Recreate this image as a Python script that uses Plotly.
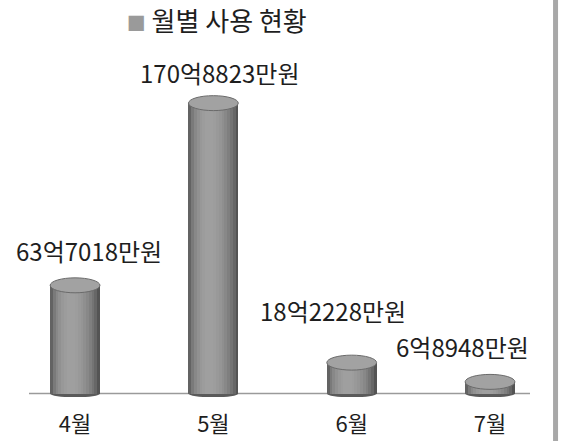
import math
import plotly.graph_objects as go

# ---- data ----
months = ["4월", "5월", "6월", "7월"]
values = [63.7018, 170.8823, 18.2228, 6.8948]          # 억원
value_labels = ["63억7018만원", "170억8823만원", "18억2228만원", "6억8948만원"]
title_text = "월별 사용 현황"

# ---- style ----
FONT = "Noto Sans CJK KR"
TEXT = "#1e1e1e"
BAR_W = 0.36
N_STRIPS = 18
CAP_H = 4.4            # half-height of the top ellipse, in data units
label_dx = [14, 6, -19, -28]
label_dy = [35, 31, 52, 35]

x = list(range(len(months)))
fig = go.Figure()


def shade(t):
    s = math.sin(math.pi * (t ** 0.8))
    g = int(62 + 98 * (max(s, 0) ** 0.55))
    return f"rgb({g},{g},{g})"


for k in range(N_STRIPS):
    t = (k + 0.5) / N_STRIPS
    fig.add_trace(go.Bar(
        x=x, y=values, base=0,
        width=BAR_W / N_STRIPS * 1.05,
        offset=-BAR_W / 2 + k * BAR_W / N_STRIPS,
        marker=dict(color=shade(t), line=dict(width=0)),
        hoverinfo="skip", showlegend=False,
    ))

shapes = []
# baseline
shapes.append(dict(type="line", xref="paper", yref="y", x0=0, x1=1, y0=0, y1=0,
                   line=dict(color="#9a9a9a", width=1.5), layer="below"))
for i, v in zip(x, values):
    # bottom of cylinder
    shapes.append(dict(type="circle", xref="x", yref="y",
                       x0=i - BAR_W / 2, x1=i + BAR_W / 2, y0=-CAP_H * 0.5, y1=CAP_H * 0.5,
                       fillcolor="#5a5a5a", line=dict(width=0), layer="below"))
    # top cap
    shapes.append(dict(type="circle", xref="x", yref="y",
                       x0=i - BAR_W / 2, x1=i + BAR_W / 2, y0=v - CAP_H, y1=v + CAP_H,
                       fillcolor="#a2a2a2", line=dict(color="#6a6a6a", width=1), layer="above"))
# right gray border
shapes.append(dict(type="line", xref="paper", yref="paper", x0=1.051, x1=1.051, y0=-0.3, y1=1.4,
                   line=dict(color="#a8a8a8", width=5)))

annotations = []
for i, v, lab, dx, dy in zip(x, values, value_labels, label_dx, label_dy):
    annotations.append(dict(x=i, y=v, xref="x", yref="y", text=lab, showarrow=False,
                            xanchor="center", yanchor="middle", xshift=dx, yshift=dy,
                            font=dict(family=FONT, size=24, color=TEXT)))

fig.update_layout(
    width=563, height=441,
    margin=dict(l=29, r=33, t=55, b=44, autoexpand=False),
    paper_bgcolor="white", plot_bgcolor="white",
    barmode="overlay", bargap=0,
    shapes=shapes, annotations=annotations,
    title=dict(
        text=f"<span style='font-size:19px;color:#9a9a9a'>■</span> {title_text}",
        x=0.385, xanchor="center", xref="container",
        y=1 - 22 / 441, yanchor="middle", yref="container",
        font=dict(family=FONT, size=26, color=TEXT),
    ),
    xaxis=dict(range=[-0.333, 3.289], tickmode="array", tickvals=x, ticktext=months,
               showgrid=False, zeroline=False, showline=False, ticks="",
               ticklabelstandoff=12, automargin=False,
               tickfont=dict(family=FONT, size=22, color=TEXT), fixedrange=True),
    yaxis=dict(range=[-2, 199.2], visible=False, showgrid=False, zeroline=False,
               automargin=False, fixedrange=True),
    font=dict(family=FONT),
)

fig.write_html("out.html")
